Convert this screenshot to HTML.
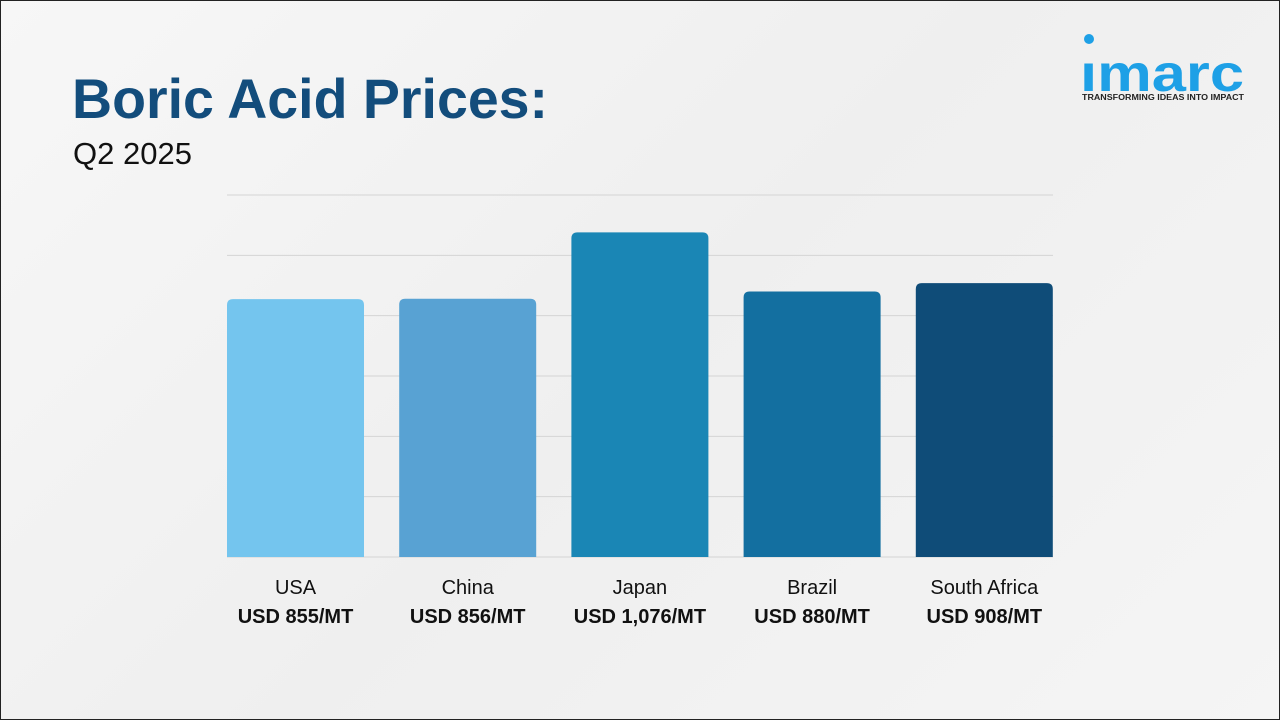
<!DOCTYPE html>
<html><head><meta charset="utf-8"><style>
html,body{margin:0;padding:0}
body{width:1280px;height:720px;overflow:hidden;position:relative;background:linear-gradient(135deg,#f7f7f7 0%,#efefef 50%,#f5f5f5 100%);font-family:"Liberation Sans",Arial,sans-serif}
#frame{position:absolute;left:0;top:0;width:1278px;height:718px;border:1px solid #222}
#title{position:absolute;left:72px;top:67px;font-size:55.5px;font-weight:bold;color:#134d7c;white-space:nowrap}
#sub{position:absolute;left:73px;top:136px;font-size:31px;color:#111}
#logo{position:absolute;left:1080px;top:30px;width:170px;height:80px}
</style></head><body>
<div id="frame"></div>
<div id="title">Boric Acid Prices:</div>
<div id="sub">Q2 2025</div>
<svg id="logo" viewBox="0 0 170 80">
<circle cx="9" cy="9" r="5" fill="#1ea0e6"/>
<text x="0" y="61" font-family="Liberation Sans, sans-serif" font-weight="bold" font-size="52" fill="#1ea0e6" textLength="164" lengthAdjust="spacingAndGlyphs">ımarc</text>
<text x="2" y="70" font-family="Liberation Sans, sans-serif" font-weight="bold" font-size="8" fill="#222" textLength="162" lengthAdjust="spacingAndGlyphs">TRANSFORMING IDEAS INTO IMPACT</text>
</svg>
<svg id="chart" width="1280" height="720" style="position:absolute;left:0;top:0"></svg>
<script>
const categories=["USA","China","Japan","Brazil","South Africa"];
const values=[855,856,1076,880,908];
const valueLabels=["USD 855/MT","USD 856/MT","USD 1,076/MT","USD 880/MT","USD 908/MT"];
const gridTicks=[0,200,400,600,800,1000,1200];
const colors=["#74c5ee","#58a2d3","#1a86b5","#136fa0","#0f4c78"];
const NS="http://www.w3.org/2000/svg";
const svg=document.getElementById('chart');
const x0=227,x1=1053,yBase=557,yTop=195,vMax=1200;
const y=v=>yBase-(v/vMax)*(yBase-yTop);
const pitch=(x1-x0+35)/categories.length,bw=137;
const xb=i=>x0+i*pitch;
gridTicks.forEach(t=>{
 const l=document.createElementNS(NS,'line');
 
 
 l.setAttribute('x1',x0);l.setAttribute('x2',x1);l.setAttribute('y1',y(t));l.setAttribute('y2',y(t));
 l.setAttribute('stroke','#d4d4d4');l.setAttribute('stroke-width','1');
 svg.appendChild(l);
});
values.forEach((v,i)=>{
 const p=document.createElementNS(NS,'path');
 
 
 const X=xb(i),Y=y(v),r=6;
 p.setAttribute('d',`M${X},${yBase}V${Y+r}Q${X},${Y} ${X+r},${Y}H${X+bw-r}Q${X+bw},${Y} ${X+bw},${Y+r}V${yBase}Z`);
 p.setAttribute('fill',colors[i]);
 svg.appendChild(p);
 const t=document.createElementNS(NS,'text');
 
 
 t.setAttribute('x',X+bw/2);t.setAttribute('y',594);t.setAttribute('text-anchor','middle');
 t.setAttribute('font-size','20');t.setAttribute('fill','#111');t.setAttribute('font-family','Liberation Sans, sans-serif');
 t.textContent=categories[i];svg.appendChild(t);
 const t2=document.createElementNS(NS,'text');
 
 
 t2.setAttribute('x',X+bw/2);t2.setAttribute('y',623);t2.setAttribute('text-anchor','middle');
 t2.setAttribute('font-size','20');t2.setAttribute('font-weight','bold');t2.setAttribute('fill','#111');t2.setAttribute('font-family','Liberation Sans, sans-serif');
 t2.textContent=valueLabels[i];svg.appendChild(t2);
});
</script>
</body></html>
